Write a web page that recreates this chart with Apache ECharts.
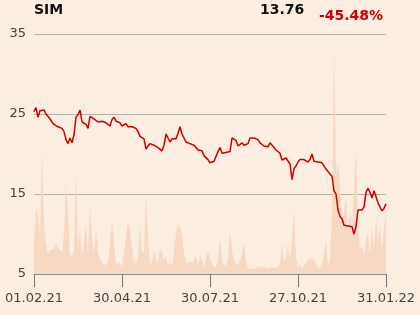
<!DOCTYPE html>
<html>
<head>
<meta charset="utf-8">
<script src="https://cdn.jsdelivr.net/npm/echarts@6/dist/echarts.min.js"></script>
<style>
html,body{margin:0;padding:0;background:#fcede1;}
#c{width:420px;height:315px;}
</style>
</head>
<body>
<div id="c"></div>
<script>
const ticker = 'SIM';
const lastPrice = '13.76';
const changePct = '-45.48%';
const tickLabels = ['01.02.21','30.04.21','30.07.21','27.10.21','31.01.22'];
const yTicks = [5, 15, 25, 35];

const price = [
25.3,25.8,24.6,25.4,25.3,25.5,25.0,24.8,24.4,24.0,
23.7,23.5,23.4,23.3,23.2,22.8,21.8,21.3,22.0,21.4,
22.4,24.6,24.9,25.5,24.0,24.1,23.7,23.2,24.7,24.5,
24.4,24.2,24.0,24.1,24.1,24.1,23.9,23.7,23.5,24.3,
24.6,24.1,24.2,23.9,23.5,23.3,23.8,23.4,23.6,23.4,
23.3,23.2,22.8,22.2,22.3,21.9,20.6,21.0,21.3,21.4,
21.1,20.9,20.8,20.6,20.4,21.1,22.5,22.3,21.5,21.9,
21.8,21.9,22.6,23.4,22.5,22.0,21.5,21.3,21.3,21.2,
21.1,20.8,20.5,20.3,20.4,19.8,19.6,19.3,18.9,19.0,
19.1,19.3,20.3,20.8,20.1,20.2,20.2,20.2,20.3,22.0,
22.0,21.7,21.0,21.2,21.4,21.1,21.0,21.3,22.0,22.0,
22.0,22.0,21.8,21.4,21.2,21.0,20.8,20.9,21.4,21.2,
20.8,20.5,20.3,20.1,19.25,19.3,19.5,19.3,18.75,16.8,
18.2,18.5,19.0,19.3,19.4,19.3,19.2,19.0,19.3,20.0,
19.1,18.9,19.0,18.8,18.9,18.9,18.1,17.8,17.8,17.2,
15.4,15.0,13.0,12.2,11.9,11.1,11.0,11.0,11.0,10.9,
10.0,10.9,13.0,13.1,13.0,13.4,15.2,15.7,15.2,14.5,
15.4,15.5,13.9,13.4,12.9,13.2,13.76
];

const volume = [
30,68,60,34,125,47,30,20,24,26,
25,30,26,27,22,40,90,62,18,20,
22,104,25,46,18,32,50,20,67,35,
20,45,22,15,15,8,10,12,31,53,
32,9,12,10,8,10,38,53,42,28,
9,12,16,47,20,23,81,35,8,12,
24,16,10,25,22,14,18,9,12,8,
10,40,50,48,40,22,10,11,13,10,
8,18,8,18,15,5,18,22,20,10,
12,6,15,37,12,10,8,14,44,22,
14,16,8,14,20,31,14,5,7,5,
6,6,7,8,5,8,5,6,7,5,
6,6,7,10,31,12,18,28,15,35,
64,18,5,10,5,8,10,14,13,16,
14,10,5,6,10,20,34,8,15,60,
227,100,112,90,52,60,78,40,64,40,
90,125,50,24,28,18,34,41,18,47,
24,57,34,47,25,46,61
];

const categories = price.map((_, i) => i);
const step = (price.length - 1) / (tickLabels.length - 1);

const chart = echarts.init(document.getElementById('c'), null, {renderer: 'canvas'});
chart.setOption({
  backgroundColor: '#fcede1',
  animation: false,
  title: [
    {text: ticker, left: 34, top: 3, padding: 0, textStyle: {fontFamily: 'DejaVu Sans', fontWeight: 'bold', fontSize: 14, color: '#111'}},
    {text: lastPrice, left: 260, top: 3, padding: 0, textStyle: {fontFamily: 'DejaVu Sans', fontWeight: 'bold', fontSize: 14, color: '#111'}},
    {text: changePct, left: 319, top: 9, padding: 0, textStyle: {fontFamily: 'DejaVu Sans', fontWeight: 'bold', fontSize: 14, color: '#cc0000'}}
  ],
  grid: {left: 34, right: 34, top: 34, bottom: 41, containLabel: false},
  xAxis: {
    type: 'category',
    data: categories,
    boundaryGap: false,
    axisLine: {show: true, lineStyle: {color: '#8c8c8c', width: 1}},
    axisTick: {show: true, interval: step - 1, length: 13, lineStyle: {color: '#777', width: 1}},
    axisLabel: {
      interval: step - 1,
      margin: 18,
      fontFamily: 'DejaVu Sans', fontSize: 13, color: '#444',
      formatter: (v, i) => (i % step === 0 ? tickLabels[i / step] : '')
    },
    splitLine: {show: false}
  },
  yAxis: [
    {
      type: 'value', min: yTicks[0], max: yTicks[yTicks.length - 1], interval: 10,
      axisLine: {show: false}, axisTick: {show: false},
      axisLabel: {margin: 8, fontFamily: 'DejaVu Sans', fontSize: 13, color: '#444'},
      splitLine: {show: true, lineStyle: {color: '#b4b0ac', width: 1}}
    },
    {
      type: 'value', min: 0, max: 240, show: false,
      splitLine: {show: false}
    }
  ],
  series: [
    {
      type: 'line', yAxisIndex: 1, data: volume, symbol: 'none',
      lineStyle: {width: 0}, areaStyle: {color: '#f7d8c2', opacity: 1},
      z: 1
    },
    {
      type: 'line', yAxisIndex: 0, data: price, symbol: 'none',
      lineStyle: {width: 1.5, color: '#cc0000'},
      z: 3
    }
  ]
});
</script>
</body>
</html>
